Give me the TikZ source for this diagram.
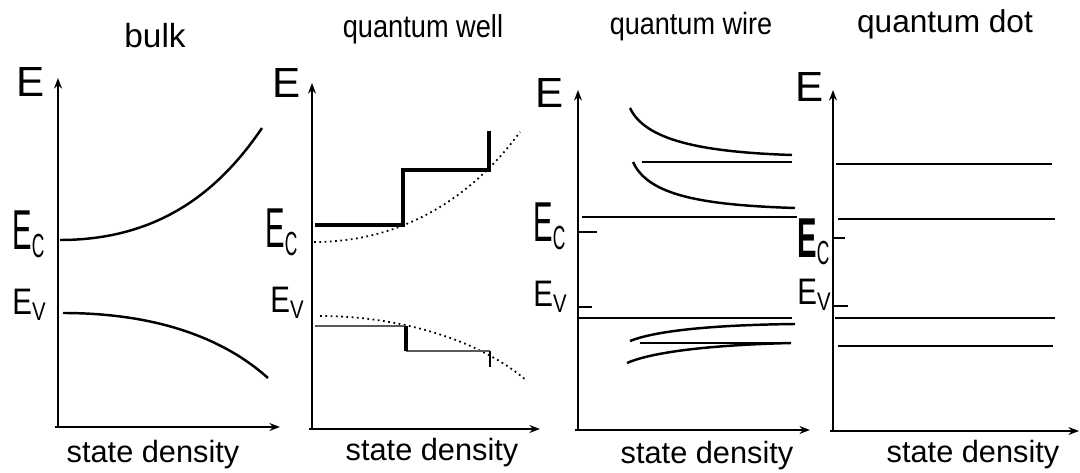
\documentclass[tikz,border=0pt]{standalone}
\usepackage{fontspec}
\setmainfont{Liberation Sans}
\usepackage{graphicx}
\usepackage{tikz}
\usetikzlibrary{arrows.meta, positioning, calc}

\newcommand{\EcLabel}[1][\mdseries]{\scalebox{0.52}[1]{\fontsize{32}{32}\selectfont#1E\raisebox{-4pt}{\fontsize{19}{19}\selectfont\mdseries C}}}
\newcommand{\EvLabel}{\scalebox{0.8}[1]{\fontsize{21}{21}\selectfont E\raisebox{-3pt}{\fontsize{14.5}{14.5}\selectfont V}}}
\newcommand{\TitleText}[2]{\scalebox{#1}[1]{#2}}

\begin{document}
\begin{tikzpicture}[x=0.02cm, y=-0.02cm, >={Stealth[length=6pt,width=4.5pt]},
  axis/.style={->, line width=1.1pt},
  band/.style={line width=1.4pt},
  stepline/.style={line width=1.8pt},
  dotline/.style={dotted, line width=1pt},
  level/.style={line width=1.3pt},
  title/.style={anchor=base, font=\fontsize{17.5}{20}\selectfont},
  elab/.style={anchor=base, font=\fontsize{24}{24}\selectfont},
  xlab/.style={anchor=base, font=\fontsize{17.5}{20}\selectfont},
  blab/.style={anchor=base west, inner sep=0pt}]
  \useasboundingbox (0,0) rectangle (1080,473);

  % bulk
  \node[title, font=\fontsize{19}{20}\selectfont] (t1) at (155,48) {bulk};
  \coordinate (o1) at (58,427); \coordinate (y1) at (58,78); \coordinate (x1) at (280,427);
  \draw[axis] ($(o1)+(-3,0)$) -- (x1);
  \draw[axis] (o1) -- (y1);
  \node[elab] (e1) at (31,97) {E};
  \node[blab] (c1) at (12,250) {\EcLabel};
  \node[blab] (v1) at (12,315) {\EvLabel};
  \draw[band] (60,240) .. controls (160,240) and (220,190) .. (262,128);
  \draw[band] (63,313) .. controls (150,313) and (220,335) .. (268,378);
  \node[xlab] (s1) at (153,462) {state density};

  % quantum well
  \node[title, font=\fontsize{18}{20}\selectfont] (t2) at (423,38) {\TitleText{0.86}{quantum well}};
  \coordinate (o2) at (312,429); \coordinate (y2) at (312,83); \coordinate (x2) at (540,429);
  \draw[axis] ($(o2)+(-3,0)$) -- (x2);
  \draw[axis] (o2) -- (y2);
  \node[elab] (e2) at (287,98) {E};
  \node[blab] (c2) at (265,248) {\EcLabel};
  \node[blab] (v2) at (270,313) {\EvLabel};
  \draw[dotline] (314,242) .. controls (400,242) and (470,200) .. (520,132);
  \draw[stepline] (315,225) -- (403,225) -- (403,170) -- (489,170) -- (489,131);
  \draw[dotline] (320,316) .. controls (400,316) and (480,340) .. (527,381);
  \draw[line width=1pt, black!65] (315,326) -- (406,326);
  \draw[line width=1pt, black!65] (406,351) -- (490,351);
  \draw[line width=1.8pt] (406,326) -- (406,351);
  \draw[line width=1pt] (490,351) -- (490,367);
  \node[xlab] (s2) at (432,460) {state density};

  % quantum wire
  \node[title, font=\fontsize{17.5}{20}\selectfont] (t3) at (691,35) {\TitleText{0.88}{quantum wire}};
  \coordinate (o3) at (578,430); \coordinate (y3) at (578,90); \coordinate (x3) at (810,430);
  \draw[axis] ($(o3)+(-3,0)$) -- (x3);
  \draw[axis] (o3) -- (y3);
  \node[elab] (e3) at (550,108) {E};
  \node[blab] (c3) at (533,242) {\EcLabel};
  \node[blab] (v3) at (533,307) {\EvLabel};
  \draw[line width=1pt] (o3 |- 0,232) -- ++(19,0);
  \draw[line width=1pt] (o3 |- 0,307) -- ++(14,0);
  \draw[band] (630,108) .. controls (645,140) and (700,152) .. (792,155);
  \draw[level] (642,162) -- (792,162);
  \draw[band] (633,162) .. controls (648,195) and (700,205) .. (795,208);
  \draw[level] (582,217) -- (797,217);
  \draw[level] (578,318) -- (792,318);
  \draw[band] (630,341) .. controls (655,331) and (710,325) .. (795,324);
  \draw[level] (640,343) -- (791,343);
  \draw[band] (627,363) .. controls (652,352) and (710,345) .. (791,343);
  \node[xlab] (s3) at (707,463) {state density};

  % quantum dot
  \node[title, font=\fontsize{18}{20}\selectfont] (t4) at (945,33) {quantum dot};
  \coordinate (o4) at (833,431); \coordinate (y4) at (833,90); \coordinate (x4) at (1079,431);
  \draw[axis] ($(o4)+(-3,0)$) -- (x4);
  \draw[axis] (o4) -- (y4);
  \node[elab] (e4) at (810,102) {E};
  \node[blab] (c4) at (797,257) {\EcLabel[\bfseries]};
  \node[blab] (v4) at (797,305) {\EvLabel};
  \draw[line width=1pt] (o4 |- 0,238) -- ++(12,0);
  \draw[line width=1pt] (o4 |- 0,306) -- ++(15,0);
  \draw[level] (836,164) -- (1052,164);
  \draw[level] (838,219) -- (1055,219);
  \draw[level] (835,318) -- (1055,318);
  \draw[line width=1.7pt] (838,346) -- (1053,346);
  \node[xlab] (s4) at (973,462) {state density};
\end{tikzpicture}
\end{document}
